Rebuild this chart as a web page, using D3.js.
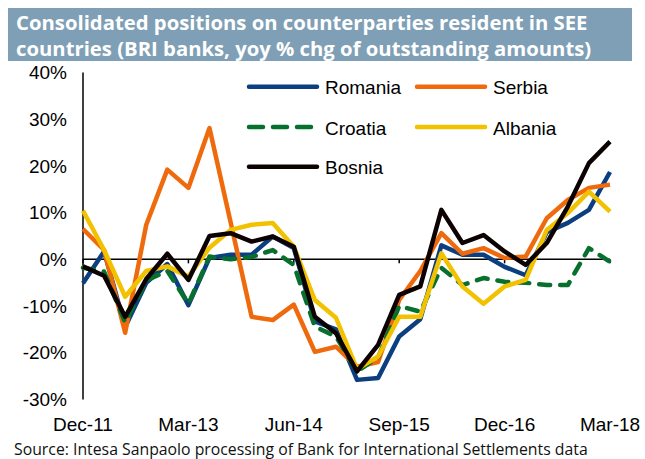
<!DOCTYPE html>
<html>
<head>
<meta charset="utf-8">
<script src="https://cdn.jsdelivr.net/npm/d3@7"></script>
<style>
  body { margin: 0; background: #fff; }
  svg { display: block; }
</style>
</head>
<body>
<div id="chart"></div>
<script>
// quarterly categories, Dec-11 .. Mar-18
var quarters = ["Dec-11","Mar-12","Jun-12","Sep-12","Dec-12","Mar-13","Jun-13","Sep-13","Dec-13",
  "Mar-14","Jun-14","Sep-14","Dec-14","Mar-15","Jun-15","Sep-15","Dec-15","Mar-16","Jun-16",
  "Sep-16","Dec-16","Mar-17","Jun-17","Sep-17","Dec-17","Mar-18"];
var tickLabels = ["Dec-11","Mar-13","Jun-14","Sep-15","Dec-16","Mar-18"];
var yTicks = [-30, -20, -10, 0, 10, 20, 30, 40];

var romania = [-5.1, 1.7, -14.5, -5, -1, -9.8, 0.3, 1, 1, 4.9, 2.4, -13.3, -15, -25.8, -25.4, -16.5,
  -12.8, 3, 1, 1, -1.6, -3.4, 5.8, 7.8, 10.6, 18.7];
var serbia = [6.5, 2, -15.7, 7.4, 19.2, 15.3, 28.1, 8, -12.3, -13, -9.7, -19.8, -18.7, -23, -22, -8.7,
  -2.5, 5.6, 1.2, 2.4, 0.3, 0.6, 8.8, 12.7, 15.3, 16];
var croatia = [-1.8, -2.6, -13.5, -4.5, -2.5, -9.5, 0.6, 0, 0.5, 2, -1.2, -14.4, -16.5, -24, -21, -10,
  -11.2, -1.8, -5.5, -4, -4.8, -5, -5.5, -5.5, 2.4, -0.5];
var albania = [10.4, 2, -8, -2.5, -1.5, -3.7, 2.5, 6.3, 7.4, 7.8, 2.7, -8.7, -12.5, -23.5, -20.8, -12.3,
  -12.3, 1.3, -5.8, -9.5, -5.8, -4.4, 6.3, 9.9, 14.5, 10.2];
var bosnia = [-1.5, -3.5, -12.3, -4.2, 1.2, -4.4, 5, 5.6, 3.8, 4.9, 2.7, -12.3, -15.8, -24, -18.3, -7.6,
  -5.8, 10.6, 3.5, 5.2, 1.7, -1.2, 3.5, 11.3, 20.6, 25.2];

var series = [
  {name: "Romania", values: romania, color: "#0b3f80", dash: null},
  {name: "Serbia",  values: serbia,  color: "#ef6a0c", dash: null},
  {name: "Croatia", values: croatia, color: "#08702e", dash: "11,10"},
  {name: "Albania", values: albania, color: "#f2c100", dash: null},
  {name: "Bosnia",  values: bosnia,  color: "#0c0202", dash: null}
];

var W = 645, H = 459;
var svg = d3.select("#chart").append("svg")
    .attr("width", W).attr("height", H);

// title bar
svg.append("rect")
    .attr("x", 8).attr("y", 8).attr("width", 624).attr("height", 53)
    .attr("fill", "#7f9fb6");
var title = svg.append("text")
    .attr("font-family", "'Open Sans', sans-serif")
    .attr("font-weight", "bold").attr("font-size", 20.3)
    .attr("fill", "#fff");
title.append("tspan").attr("x", 16).attr("y", 29.5)
    .text("Consolidated positions on counterparties resident in SEE");
title.append("tspan").attr("x", 16).attr("y", 55.5)
    .text("countries (BRI banks, yoy % chg of outstanding amounts)");

// scales
var x = d3.scalePoint().domain(quarters).range([83, 610]);
var y = d3.scaleLinear().domain([-30, 40]).range([399.5, 72.5]);

var axisFont = "'Liberation Sans', Arial, sans-serif";

// y axis line + labels
svg.append("line")
    .attr("x1", x(quarters[0])).attr("x2", x(quarters[0]))
    .attr("y1", y(40)).attr("y2", y(-30))
    .attr("stroke", "#000").attr("stroke-width", 1.5);
svg.selectAll("text.ylab").data(yTicks).enter().append("text")
    .attr("class", "ylab")
    .attr("x", 67).attr("y", function(d) { return y(d); })
    .attr("dy", "0.35em")
    .attr("text-anchor", "end")
    .attr("font-family", axisFont).attr("font-size", 19)
    .text(function(d) { return d + "%"; });

// zero line with ticks
svg.append("line")
    .attr("x1", x(quarters[0])).attr("x2", x(quarters[quarters.length - 1]))
    .attr("y1", y(0)).attr("y2", y(0))
    .attr("stroke", "#000").attr("stroke-width", 1.5);
svg.selectAll("line.xtick").data(tickLabels).enter().append("line")
    .attr("class", "xtick")
    .attr("x1", function(d) { return x(d); }).attr("x2", function(d) { return x(d); })
    .attr("y1", y(0)).attr("y2", y(0) + 4)
    .attr("stroke", "#000").attr("stroke-width", 1.5);
svg.selectAll("text.xlab").data(tickLabels).enter().append("text")
    .attr("class", "xlab")
    .attr("x", function(d) { return x(d); }).attr("y", 431)
    .attr("text-anchor", "middle")
    .attr("font-family", axisFont).attr("font-size", 19)
    .text(function(d) { return d; });

// series lines
var line = d3.line()
    .x(function(d, i) { return x(quarters[i]); })
    .y(function(d) { return y(d); });

svg.selectAll("path.series").data(series).enter().append("path")
    .attr("class", "series")
    .attr("d", function(d) { return line(d.values); })
    .attr("fill", "none")
    .attr("stroke", function(d) { return d.color; })
    .attr("stroke-width", 4.5)
    .attr("stroke-linejoin", "round")
    .attr("stroke-linecap", function(d) { return d.dash ? "round" : "butt"; })
    .attr("stroke-dasharray", function(d) { return d.dash; });

// legend
var legendPos = [[247, 86.7], [415, 86.7], [247, 127], [415, 127], [247, 166.7]];
var legend = svg.selectAll("g.legend").data(series).enter().append("g")
    .attr("class", "legend")
    .attr("transform", function(d, i) { return "translate(" + legendPos[i][0] + "," + legendPos[i][1] + ")"; });
legend.append("line")
    .attr("x1", 2).attr("x2", 70).attr("y1", 0).attr("y2", 0)
    .attr("stroke", function(d) { return d.color; })
    .attr("stroke-width", 4.5)
    .attr("stroke-linecap", "round")
    .attr("stroke-dasharray", function(d) { return d.dash ? "14,10" : null; });
legend.append("text")
    .attr("x", 78).attr("y", 7.5)
    .attr("font-family", axisFont).attr("font-size", 19)
    .text(function(d) { return d.name; });

// source
svg.append("text")
    .attr("x", 14).attr("y", 455)
    .attr("font-family", "'Open Sans', sans-serif").attr("font-size", 15.8)
    .attr("fill", "#111")
    .text("Source: Intesa Sanpaolo processing of Bank for International Settlements data");
</script>
</body>
</html>
